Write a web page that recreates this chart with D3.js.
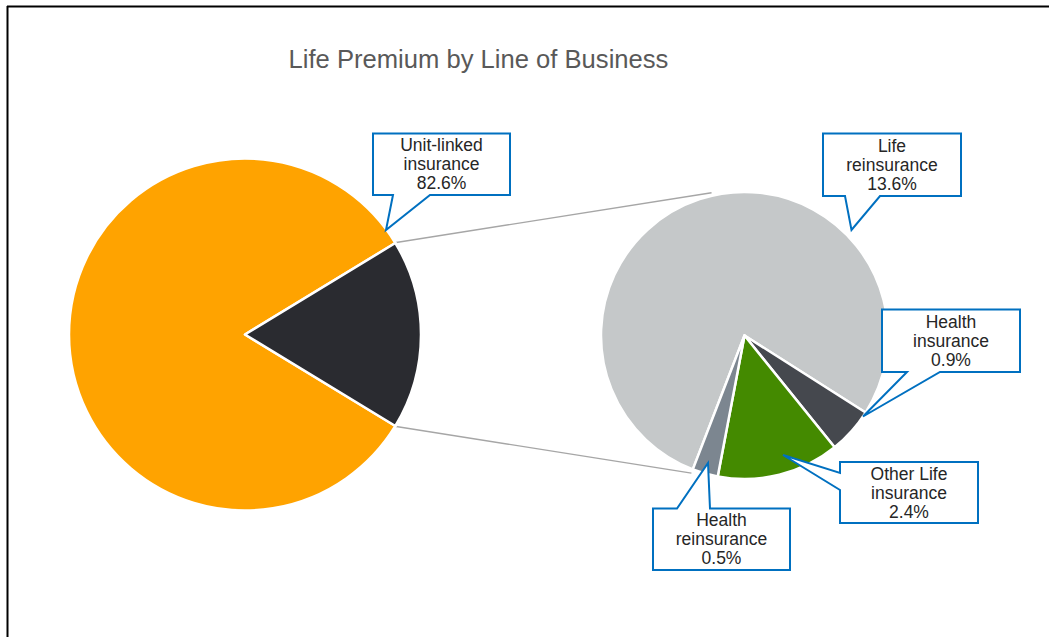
<!DOCTYPE html>
<html>
<head>
<meta charset="utf-8">
<script src="https://cdn.jsdelivr.net/npm/d3@7"></script>
<style>
  html, body { margin: 0; padding: 0; background: #fff; }
  svg { display: block; font-family: "Liberation Sans", Arial, sans-serif; }
</style>
</head>
<body>
<svg id="chart" width="1049" height="637"></svg>
<script>
// Premium shares (%) by line of business
const mainCategories = ["Unit-linked insurance", "Other"];
const mainValues = [82.6, 17.4];

const splitCategories = ["Life reinsurance", "Health insurance", "Other Life insurance", "Health reinsurance"];
const splitValues = [13.6, 0.9, 2.4, 0.5];

// Callout text lines, one entry per labelled slice
const calloutLabels = [
  ["Unit-linked", "insurance", "82.6%"],
  ["Life", "reinsurance", "13.6%"],
  ["Health", "insurance", "0.9%"],
  ["Other Life", "insurance", "2.4%"],
  ["Health", "reinsurance", "0.5%"]
];

const title = "Life Premium by Line of Business";

// ---- layout & style ----
const svg = d3.select("#chart");
const W = 1049, H = 637;

const mainColors = d3.scaleOrdinal().domain(mainCategories).range(["#FFA300", "#2A2B30"]);
const splitColors = d3.scaleOrdinal().domain(splitCategories)
  .range(["#C5C8C9", "#45484E", "#448A00", "#7C8690"]);

const deg = Math.PI / 180;
const main = { cx: 245, cy: 334.5, r: 176 };
const side = { cx: 744.5, cy: 335.5, r: 143.5 };

// frame
svg.append("line").attr("x1", 7).attr("y1", 6.5).attr("x2", W).attr("y2", 6.5)
  .attr("stroke", "#000").attr("stroke-width", 2);
svg.append("line").attr("x1", 7.5).attr("y1", 6).attr("x2", 7.5).attr("y2", H)
  .attr("stroke", "#000").attr("stroke-width", 2);

// title
svg.append("text")
  .attr("x", 478.5).attr("y", 68)
  .attr("text-anchor", "middle")
  .attr("font-size", 25.6)
  .attr("fill", "#595959")
  .text(title);

// main pie: the combined slice is centred on the right-hand side
const otherShare = mainValues[1] / d3.sum(mainValues);
const mainStart = Math.PI / 2 + otherShare * Math.PI;
const mainPie = d3.pie().sort(null).value(d => d.v)
  .startAngle(mainStart).endAngle(mainStart + 2 * Math.PI);
const mainArcs = mainPie(mainCategories.map((c, i) => ({ c, v: mainValues[i] })));
const mainArc = d3.arc().innerRadius(0).outerRadius(main.r);

// secondary pie: breakdown of the combined slice
const sideStart = -158.9 * deg;
const sidePie = d3.pie().sort(null).value(d => d.v)
  .startAngle(sideStart).endAngle(sideStart + 2 * Math.PI);
const sideArcs = sidePie(splitCategories.map((c, i) => ({ c, v: splitValues[i] })));
const sideArc = d3.arc().innerRadius(0).outerRadius(side.r);

const polar = (p, a, r) => [p.cx + r * Math.sin(a), p.cy - r * Math.cos(a)];

// connector lines between the pies
const otherArc = mainArcs[1];
const topFrom = polar(main, otherArc.startAngle, main.r + 1);
const botFrom = polar(main, otherArc.endAngle, main.r + 1);
const topTo = polar(side, -13 * deg, side.r + 3);
const botTo = polar(side, sideArcs[3].endAngle, side.r + 4);
svg.append("g").selectAll("line")
  .data([[topFrom, topTo], [botFrom, botTo]])
  .join("line")
  .attr("x1", d => d[0][0]).attr("y1", d => d[0][1])
  .attr("x2", d => d[1][0]).attr("y2", d => d[1][1])
  .attr("stroke", "#A6A6A6").attr("stroke-width", 1.4);

svg.append("g")
  .attr("transform", `translate(${main.cx},${main.cy})`)
  .selectAll("path")
  .data(mainArcs)
  .join("path")
  .attr("d", mainArc)
  .attr("fill", d => mainColors(d.data.c))
  .attr("stroke", "#fff").attr("stroke-width", 2.5).attr("stroke-linejoin", "round");

svg.append("g")
  .attr("transform", `translate(${side.cx},${side.cy})`)
  .selectAll("path")
  .data(sideArcs)
  .join("path")
  .attr("d", sideArc)
  .attr("fill", d => splitColors(d.data.c))
  .attr("stroke", "#fff").attr("stroke-width", 2.5).attr("stroke-linejoin", "round");

// callout boxes: rectangle plus a wedge pointing at the slice
const callouts = [
  { box: [373, 133.5, 510, 195], edge: "bottom", base: [393, 430], tip: [386, 230] },
  { box: [823, 133.5, 961, 196], edge: "bottom", base: [845, 880], tip: [851.5, 230] },
  { box: [882, 309.5, 1020, 372], edge: "bottom", base: [907, 940], tip: [863, 416.5] },
  { box: [840, 462, 978, 523], edge: "left", base: [473, 490], tip: [783, 455] },
  { box: [653, 508.5, 790, 570], edge: "top", base: [677, 710], tip: [708, 463] }
];

function calloutPath(c) {
  const [x0, y0, x1, y1] = c.box;
  const [a, b] = c.base;
  const [tx, ty] = c.tip;
  const p = d3.path();
  p.moveTo(x0, y0);
  if (c.edge === "top") { p.lineTo(a, y0); p.lineTo(tx, ty); p.lineTo(b, y0); }
  p.lineTo(x1, y0);
  p.lineTo(x1, y1);
  if (c.edge === "bottom") { p.lineTo(b, y1); p.lineTo(tx, ty); p.lineTo(a, y1); }
  p.lineTo(x0, y1);
  if (c.edge === "left") { p.lineTo(x0, b); p.lineTo(tx, ty); p.lineTo(x0, a); }
  p.closePath();
  return p.toString();
}

const cg = svg.append("g").selectAll("g")
  .data(callouts.map((c, i) => ({ ...c, lines: calloutLabels[i] })))
  .join("g");

cg.append("path")
  .attr("d", calloutPath)
  .attr("fill", "#fff")
  .attr("stroke", "#0070C0")
  .attr("stroke-width", 2)
  .attr("stroke-linejoin", "miter");

cg.each(function (d) {
  const cx = (d.box[0] + d.box[2]) / 2;
  const cy = (d.box[1] + d.box[3]) / 2;
  const lh = 19;
  d3.select(this).selectAll("text")
    .data(d.lines)
    .join("text")
    .attr("x", cx)
    .attr("y", (t, i) => cy + (i - 1) * lh + 6)
    .attr("text-anchor", "middle")
    .attr("font-size", 17.5)
    .attr("fill", "#262626")
    .text(t => t);
});
</script>
</body>
</html>
